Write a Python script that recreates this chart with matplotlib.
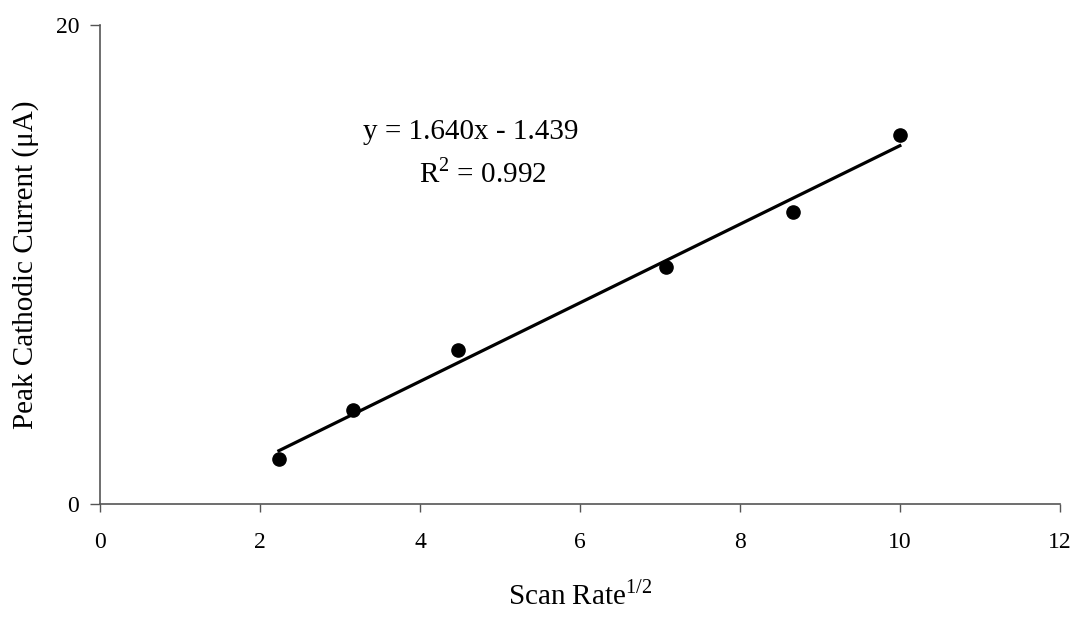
import numpy as np
import matplotlib
matplotlib.use("Agg")
import matplotlib.pyplot as plt

plt.rcParams['font.family'] = ['Liberation Serif', 'DejaVu Serif']
plt.rcParams['mathtext.fontset'] = 'custom'
plt.rcParams['mathtext.rm'] = 'Liberation Serif'

# Square root of scan rate and the peak cathodic current (uA)
scan_rate_sqrt = [2.236, 3.162, 4.472, 7.071, 8.660, 10.0]
peak_current = [1.87, 3.92, 6.43, 9.91, 12.18, 15.41]

# Linear trend line as reported on the chart
slope, intercept = 1.640, -1.439
r_squared = 0.992

x_ticks = [0, 2, 4, 6, 8, 10, 12]
y_ticks = [0, 20]

fig = plt.figure(figsize=(10.7, 6.17), dpi=100, facecolor='w')
ax = fig.add_axes([0.0935, 0.183, 0.897, 0.7765])

# trend line over the data range
xs = np.array([min(scan_rate_sqrt), max(scan_rate_sqrt)])
ax.plot(xs, slope * xs + intercept, color='black', lw=2.3, zorder=2)
ax.plot(scan_rate_sqrt, peak_current, 'o', color='black', ms=9.5, zorder=3)

ax.set_xlim(0, 12)
ax.set_ylim(0, 20)
ax.set_xticks(x_ticks)
ax.set_yticks(y_ticks)
ax.tick_params(axis='x', direction='out', length=6, width=1, color='#555555',
               labelsize=17, pad=14)
ax.tick_params(axis='y', direction='out', length=7, width=1, color='#555555',
               labelsize=17, pad=8)

for spine in ('top', 'right'):
    ax.spines[spine].set_visible(False)
for spine in ('left', 'bottom'):
    ax.spines[spine].set_color('#555555')
    ax.spines[spine].set_linewidth(1.2)

ax.set_xlabel(r'Scan Rate$^{1/2}$', fontsize=21)
ax.xaxis.set_label_coords(0.5, -0.16)
ax.set_ylabel('Peak Cathodic Current (\u03bcA)', fontsize=21)
ax.yaxis.set_label_coords(-0.064, 0.5)

ax.text(4.64, 15.53, 'y = %.3fx - %.3f' % (slope, abs(intercept)),
        fontsize=21, ha='center', va='center')
ax.text(4.79, 13.82, r'R$^2$ = %.3f' % r_squared,
        fontsize=21, ha='center', va='center')

fig.savefig('out.png', dpi=100)
